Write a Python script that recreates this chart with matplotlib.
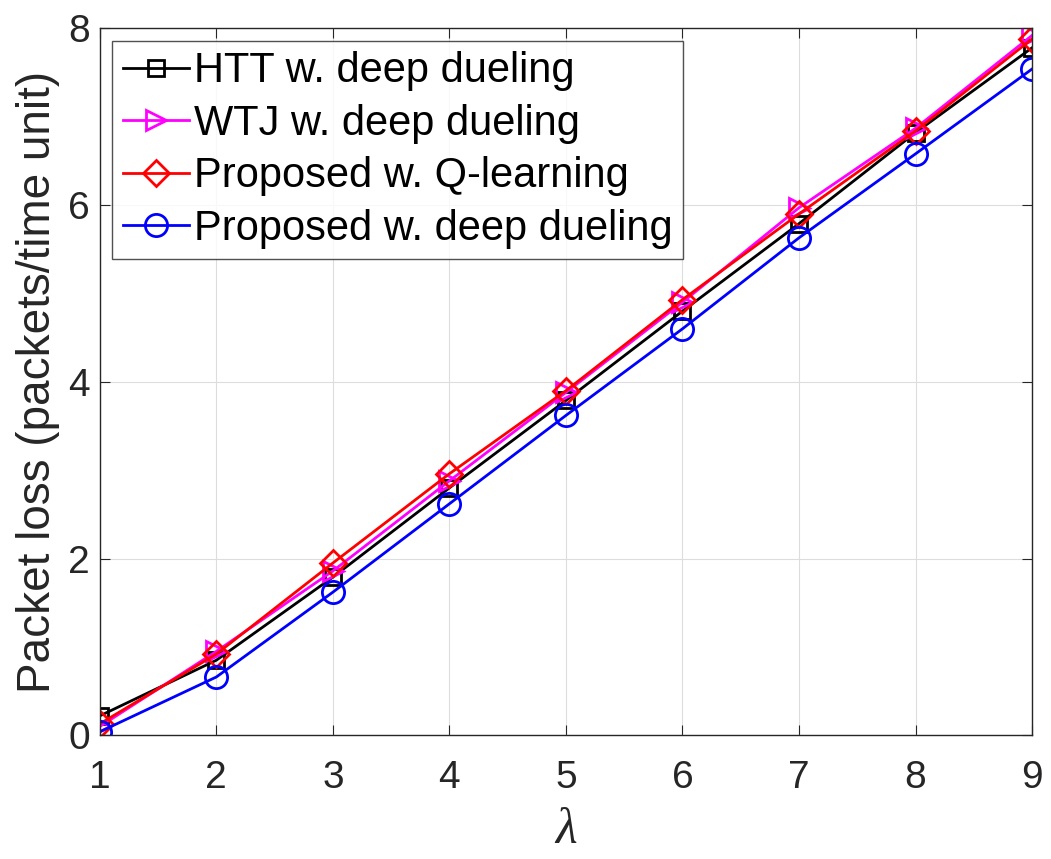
import matplotlib
matplotlib.use("Agg")
import matplotlib.pyplot as plt

plt.rcParams['font.family'] = ['Liberation Sans', 'DejaVu Sans']
plt.rcParams['mathtext.fontset'] = 'custom'
plt.rcParams['mathtext.it'] = 'Liberation Serif:italic'

lam = [1, 2, 3, 4, 5, 6, 7, 8, 9]
htt = [0.22, 0.85, 1.79, 2.80, 3.79, 4.80, 5.79, 6.82, 7.78]
wtj = [0.10, 0.95, 1.86, 2.88, 3.88, 4.90, 5.97, 6.87, 7.92]
q_learning = [0.13, 0.92, 1.95, 2.96, 3.90, 4.93, 5.90, 6.84, 7.88]
deep_dueling = [0.04, 0.66, 1.62, 2.62, 3.62, 4.60, 5.63, 6.58, 7.54]

fig = plt.figure(figsize=(10.51, 8.59), dpi=100)
ax = fig.add_axes([0.095, 0.144, 0.887, 0.823])

lw = 2.0
ax.plot(lam, htt, color="black", marker="s", mfc="none", mew=lw, lw=lw, ms=12,
        label="HTT w. deep dueling")
ax.plot(lam, wtj, color="magenta", marker=">", mfc="none", mew=lw, lw=lw, ms=15,
        label="WTJ w. deep dueling")
ax.plot(lam, q_learning, color="red", marker="D", mfc="none", mew=lw, lw=lw, ms=13,
        label="Proposed w. Q-learning")
ax.plot(lam, deep_dueling, color="blue", marker="o", mfc="none", mew=lw, lw=lw, ms=16,
        label="Proposed w. deep dueling")

ax.set_xlim(1, 9)
ax.set_ylim(0, 8)
ax.set_xticks(lam)
ax.set_yticks([0, 2, 4, 6, 8])
ax.grid(True, color="#dddddd", lw=0.8)
ax.tick_params(direction="in", top=True, right=True, labelsize=28, length=7,
               colors="#262626")
ax.tick_params(axis="x", pad=18)
ax.tick_params(axis="y", pad=7)
for s in ax.spines.values():
    s.set_color("#262626")
    s.set_linewidth(1.0)

ax.set_xlabel(r"$\lambda$", fontsize=36, color="#262626", labelpad=8)
ax.set_ylabel("Packet loss (packets/time unit)", fontsize=33, color="#262626", labelpad=6)

leg = ax.legend(loc="upper left", fontsize=30, frameon=True, fancybox=False,
                edgecolor="#262626", handlelength=1.6, handletextpad=0.1,
                borderaxespad=0.3, labelspacing=0.3, borderpad=0.25)
leg.get_frame().set_linewidth(1.0)

fig.savefig("out.png", dpi=100)
